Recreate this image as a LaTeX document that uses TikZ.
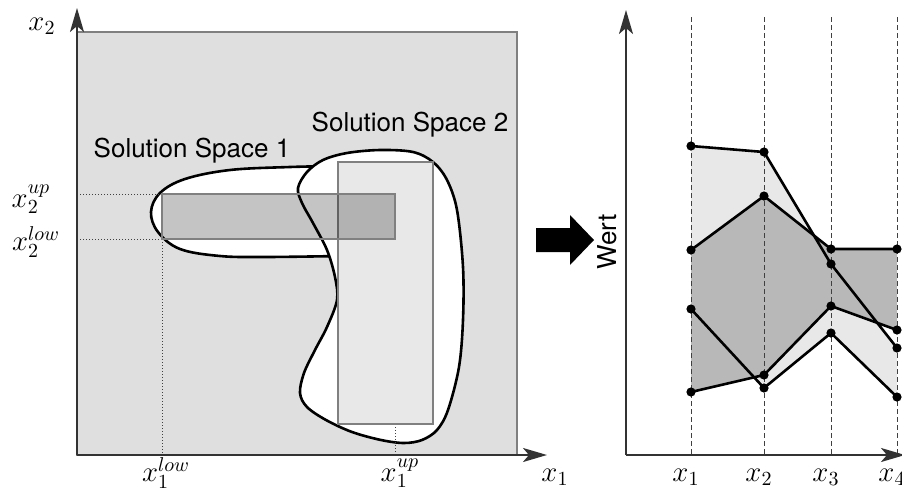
\documentclass[tikz,border=0pt]{standalone}
\usepackage{fontspec}
\setsansfont{TeX Gyre Heros}
\usetikzlibrary{arrows.meta}
\definecolor{spacebg}{HTML}{DFDFDF}
\definecolor{spaceborder}{HTML}{808080}
\definecolor{lightband}{HTML}{E8E8E8}
\definecolor{darkband}{HTML}{B8B8B8}
\definecolor{axisgray}{HTML}{333333}

\begin{document}
\begin{tikzpicture}[
  x=0.5pt, y=-0.5pt, >=Stealth,
  axis/.style={draw=axisgray, line width=1.1pt, -{Stealth[length=12pt, width=7pt, inset=3pt]}},
  helper/.style={draw=black!75, densely dotted, line width=0.5pt},
  gridline/.style={draw=black!75, dash pattern=on 2.5pt off 1.5pt, line width=0.5pt},
  blob/.style={draw=black, fill=white, line width=1.3pt},
  lightbox/.style={fill=black, fill opacity=0.09, draw=black!50, line width=0.7pt},
  darkbox/.style={fill=black, fill opacity=0.23, draw=black!50, line width=0.7pt},
  series/.style={draw=black, line width=1.3pt, line join=round},
  txt/.style={font=\fontsize{13}{15}\selectfont\sffamily},
  mlbl/.style={font=\fontsize{14.5}{16}\selectfont, inner sep=0pt}
]
  \useasboundingbox (0,0) rectangle (902,489);
  \clip (0,0) rectangle (902,489);

  % Design space
  \filldraw[fill=spacebg, draw=spaceborder, line width=0.7pt] (77,32) rectangle (517,455);

  % Solution Space 1
  \draw[blob] plot[smooth, tension=0.6] coordinates {(340,166) (290,167) (230,170) (185,179) (160,193) (151,212) (158,232) (180,249) (220,256) (265,257) (340,256)}
    -- (360,230) -- (360,190) -- cycle;

  % Solution Space 2
  \draw[blob] plot[smooth cycle, tension=0.55] coordinates {(298,188) (307,172) (323,160) (347,153) (380,150) (413,152) (433,162) (447,180) (457,210) (463,267) (463,320) (459,367) (448,410) (437,430) (422,440) (404,443) (381,440) (352,432) (326,420) (307,407) (300,393) (304,373) (315,350) (327,327) (337,300) (335,277) (327,250) (313,223) (302,203)};

  % Bounds
  \coordinate (lowL) at (162,239);
  \coordinate (upL) at (162,194);
  \coordinate (upR) at (395,424);
  \draw[helper] (77,194) -- (upL);
  \draw[helper] (77,239) -- (lowL);
  \draw[helper] (lowL) -- (162,455);
  \draw[helper] (upR) -- (395,455);

  % Boxes
  \draw[lightbox] (338,162) rectangle (433,424);
  \draw[darkbox] (162,194) rectangle (395,239);

  % Axes
  \coordinate (o1) at (77,455);
  \draw[axis] (o1) -- (77,8);
  \draw[axis] (o1) -- (547,455);

  % Labels
  \node[txt] (ss1) at (192,151) {Solution Space 1};
  \node[txt] (ss2) at (410,125) {Solution Space 2};
  \node[mlbl] (lx2) at (42,26) {$x_2$};
  \node[mlbl] (lx1) at (555,477) {$x_1$};
  \node[mlbl] (lx2up) at (31,199) {$x_2^{up}$};
  \node[mlbl] (lx2low) at (36,242) {$x_2^{low}$};
  \node[mlbl] (lx1low) at (166,473) {$x_1^{low}$};
  \node[mlbl] (lx1up) at (400,473) {$x_1^{up}$};

  % Arrow between panels
  \fill[black] (536,228) -- (570,228) -- (570,215) -- (594,240) -- (570,265) -- (570,252) -- (536,252) -- cycle;

  % ==================== VALUE PLOT ====================
  \coordinate (a1) at (691,146); \coordinate (a2) at (764,152); \coordinate (a3) at (831,264); \coordinate (a4) at (897,348);
  \coordinate (b1) at (691,250); \coordinate (b2) at (764,196); \coordinate (b3) at (831,249); \coordinate (b4) at (897,249);
  \coordinate (c1) at (691,309); \coordinate (c2) at (764,388); \coordinate (c3) at (831,333); \coordinate (c4) at (897,397);
  \coordinate (d1) at (691,392); \coordinate (d2) at (764,375); \coordinate (d3) at (831,306); \coordinate (d4) at (897,330);

  % Bands
  \fill[lightband] (a1) -- (a2) -- (a3) -- (a4) -- (c4) -- (c3) -- (c2) -- (c1) -- cycle;
  \fill[darkband] (b1) -- (b2) -- (b3) -- (b4) -- (d4) -- (d3) -- (d2) -- (d1) -- cycle;

  % Parameter lines
  \draw[gridline] (691,17) -- (691,455);
  \draw[gridline] (764,17) -- (764,455);
  \draw[gridline] (831,17) -- (831,455);
  \draw[gridline] (897,17) -- (897,455);

  % Series
  \draw[series] (a1) -- (a2) -- (a3) -- (a4);
  \draw[series] (b1) -- (b2) -- (b3) -- (b4);
  \draw[series] (c1) -- (c2) -- (c3) -- (c4);
  \draw[series] (d1) -- (d2) -- (d3) -- (d4);
  \fill (a1) circle (2.3pt) (a2) circle (2.3pt) (a3) circle (2.3pt) (a4) circle (2.3pt);
  \fill (b1) circle (2.3pt) (b2) circle (2.3pt) (b3) circle (2.3pt) (b4) circle (2.3pt);
  \fill (c1) circle (2.3pt) (c2) circle (2.3pt) (c3) circle (2.3pt) (c4) circle (2.3pt);
  \fill (d1) circle (2.3pt) (d2) circle (2.3pt) (d3) circle (2.3pt) (d4) circle (2.3pt);

  % Axes
  \coordinate (o2) at (626,455);
  \draw[axis] (o2) -- (626,10);
  \draw[axis] (o2) -- (905,455);

  % Labels
  \node[txt, rotate=90] (wert) at (607,242) {Wert};
  \node[mlbl] (lp1) at (686,477) {$x_1$};
  \node[mlbl] (lp2) at (759,477) {$x_2$};
  \node[mlbl] (lp3) at (826,477) {$x_3$};
  \node[mlbl] (lp4) at (892,477) {$x_4$};

\end{tikzpicture}
\end{document}
